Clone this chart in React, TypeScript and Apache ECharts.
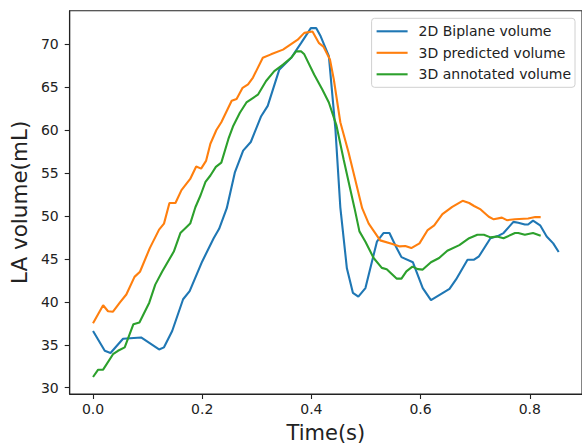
import React, { useEffect, useRef } from "react";
import * as echarts from "echarts";

const biplaneTime = [0, 0.0215, 0.032, 0.055, 0.088, 0.121, 0.13, 0.145, 0.165, 0.177, 0.2, 0.221, 0.231, 0.245, 0.26, 0.275, 0.289, 0.308, 0.32, 0.341, 0.363, 0.381, 0.399, 0.409, 0.417, 0.432, 0.444, 0.453, 0.465, 0.476, 0.486, 0.499, 0.52, 0.532, 0.543, 0.555, 0.565, 0.586, 0.604, 0.619, 0.653, 0.665, 0.686, 0.698, 0.707, 0.728, 0.743, 0.752, 0.77, 0.779, 0.791, 0.797, 0.806, 0.819, 0.831, 0.843, 0.853];
const biplaneVolume = [36.6, 34.3, 34.05, 35.7, 35.85, 34.45, 34.7, 36.6, 40.3, 41.25, 44.7, 47.4, 48.5, 50.9, 55.1, 57.6, 58.6, 61.6, 62.8, 67.0, 68.4, 70.1, 71.85, 71.85, 70.9, 68.6, 60.1, 51.0, 43.9, 41.05, 40.6, 41.6, 47.0, 48.0, 48.0, 46.4, 45.2, 44.6, 41.6, 40.2, 41.5, 42.6, 44.9, 44.9, 45.3, 47.4, 47.7, 48.0, 49.3, 49.2, 49.0, 49.0, 49.45, 48.9, 47.6, 46.8, 45.8];

const predictedTime = [0, 0.0185, 0.0275, 0.0366, 0.049, 0.061, 0.076, 0.086, 0.104, 0.121, 0.13, 0.14, 0.151, 0.162, 0.178, 0.189, 0.198, 0.207, 0.215, 0.226, 0.235, 0.254, 0.263, 0.274, 0.284, 0.293, 0.311, 0.326, 0.348, 0.375, 0.387, 0.402, 0.414, 0.422, 0.434, 0.441, 0.453, 0.468, 0.48, 0.493, 0.505, 0.526, 0.547, 0.562, 0.572, 0.583, 0.598, 0.613, 0.625, 0.64, 0.658, 0.677, 0.689, 0.698, 0.71, 0.725, 0.734, 0.749, 0.758, 0.773, 0.797, 0.81, 0.82];
const predictedVolume = [37.5, 39.6, 38.9, 38.85, 39.9, 40.85, 42.9, 43.5, 46.25, 48.4, 49.1, 51.5, 51.5, 53.0, 54.3, 55.75, 55.5, 56.4, 58.4, 60.0, 60.9, 63.4, 63.6, 64.9, 65.3, 66.1, 68.4, 68.8, 69.35, 70.5, 71.3, 71.45, 70.1, 69.7, 68.2, 65.9, 60.9, 57.4, 54.3, 50.9, 49.1, 47.15, 46.75, 46.45, 46.5, 46.25, 46.8, 48.35, 48.9, 50.2, 51.05, 51.75, 51.5, 51.15, 50.75, 49.9, 49.6, 49.8, 49.5, 49.6, 49.7, 49.86, 49.86];

const annotatedTime = [0, 0.0094, 0.0185, 0.0366, 0.0457, 0.058, 0.074, 0.085, 0.103, 0.114, 0.127, 0.148, 0.16, 0.178, 0.1875, 0.197, 0.206, 0.215, 0.225, 0.235, 0.248, 0.257, 0.269, 0.281, 0.29, 0.302, 0.317, 0.332, 0.348, 0.363, 0.372, 0.381, 0.387, 0.405, 0.42, 0.432, 0.446, 0.459, 0.471, 0.479, 0.488, 0.499, 0.514, 0.529, 0.538, 0.556, 0.565, 0.574, 0.585, 0.595, 0.604, 0.619, 0.634, 0.649, 0.671, 0.689, 0.704, 0.716, 0.728, 0.74, 0.752, 0.773, 0.779, 0.791, 0.806, 0.82];
const annotatedVolume = [31.25, 32.1, 32.1, 33.9, 34.3, 34.7, 37.4, 37.6, 39.9, 42.0, 43.55, 45.85, 48.0, 49.1, 51.0, 52.4, 53.95, 54.7, 55.7, 56.2, 58.95, 60.5, 62.0, 63.2, 63.6, 64.1, 65.7, 66.85, 67.6, 68.4, 69.15, 69.15, 68.8, 66.45, 64.7, 63.2, 60.5, 56.6, 53.15, 50.9, 48.2, 47.0, 45.1, 43.95, 43.8, 42.7, 42.7, 43.55, 44.1, 43.8, 43.75, 44.6, 45.1, 45.95, 46.6, 47.4, 47.8, 47.8, 47.5, 47.6, 47.4, 48.0, 48.0, 47.8, 48.0, 47.7];

const seriesNames = ["2D Biplane volume", "3D predicted volume", "3D annotated volume"];
const seriesColors = ["#1f77b4", "#ff7f0e", "#2ca02c"];
const xTicks = [0, 0.2, 0.4, 0.6, 0.8];
const yTicks = [30, 35, 40, 45, 50, 55, 60, 65, 70];

const pair = (t: number[], v: number[]) => t.map((x, i) => [x, v[i]]);

export default function App() {
  const ref = useRef<HTMLDivElement>(null);
  useEffect(() => {
    if (!ref.current) return;
    const chart = echarts.init(ref.current, undefined, { renderer: "svg" });
    const font = "DejaVu Sans";
    const datasets = [
      pair(biplaneTime, biplaneVolume),
      pair(predictedTime, predictedVolume),
      pair(annotatedTime, annotatedVolume),
    ];
    chart.setOption({
      animation: false,
      backgroundColor: "#ffffff",
      textStyle: { fontFamily: font },
      grid: {
        left: 66.7,
        top: 10.7,
        right: -2.5,
        bottom: 51,
        show: true,
        borderColor: "#222",
        borderWidth: 1.1,
        backgroundColor: "transparent",
      },
      legend: {
        orient: "vertical",
        right: 7,
        top: 18.3,
        padding: [6, 4, 6, 5],
        itemWidth: 31,
        itemHeight: 14,
        itemGap: 7.5,
        icon: "path://M0,0 L31,0 L31,2.1 L0,2.1 Z",
        symbolKeepAspect: true,
        backgroundColor: "rgba(255,255,255,0.8)",
        borderColor: "#d0d0d0",
        borderWidth: 1,
        borderRadius: 3,
        textStyle: { fontFamily: font, fontSize: 14, color: "#222", padding: [0, 0, 0, 6] },
        data: seriesNames,
      },
      xAxis: {
        type: "value",
        min: -0.0427,
        max: 0.8957,
        splitLine: { show: false },
        axisLine: { show: true, onZero: false, lineStyle: { color: "#222", width: 1.1 } },
        axisTick: { show: true, length: 5, customValues: xTicks, lineStyle: { color: "#222", width: 1.1 } },
        axisLabel: {
          customValues: xTicks,
          margin: 8,
          fontSize: 14,
          fontFamily: font,
          color: "#222",
          formatter: (v: number) => v.toFixed(1),
        },
        name: "Time(s)",
        nameLocation: "middle",
        nameGap: 28,
        nameTextStyle: { fontSize: 21, fontFamily: font, color: "#222" },
      },
      yAxis: {
        type: "value",
        min: 29.27,
        max: 73.88,
        splitLine: { show: false },
        axisLine: { show: true, onZero: false, lineStyle: { color: "#222", width: 1.1 } },
        axisTick: { show: true, length: 5, customValues: yTicks, lineStyle: { color: "#222", width: 1.1 } },
        axisLabel: {
          customValues: yTicks,
          margin: 11,
          fontSize: 14,
          fontFamily: font,
          color: "#222",
        },
        name: "LA volume(mL)",
        nameLocation: "middle",
        nameGap: 35,
        nameTextStyle: { fontSize: 21.5, fontFamily: font, color: "#222" },
      },
      series: datasets.map((d, i) => ({
        name: seriesNames[i],
        type: "line",
        data: d,
        symbol: "none",
        color: seriesColors[i],
        lineStyle: { width: 2.1, color: seriesColors[i] },
        itemStyle: { color: seriesColors[i] },
        z: 2 + i,
      })),
    });
    return () => chart.dispose();
  }, []);
  return (
    <div
      ref={ref}
      style={{ position: "fixed", left: 0, top: 0, width: 582, height: 448 }}
    />
  );
}
